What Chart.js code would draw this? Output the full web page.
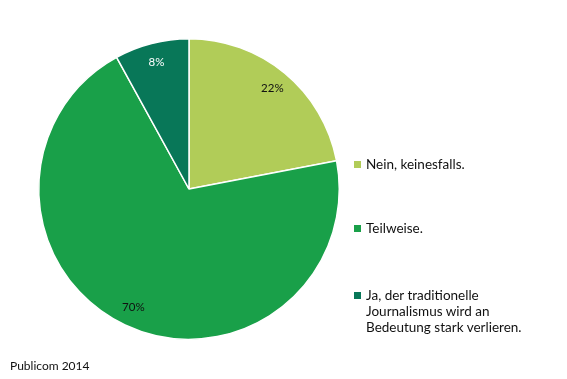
<!DOCTYPE html>
<html><head><meta charset="utf-8">
<script src="https://cdn.jsdelivr.net/npm/chart.js@4"></script>
<style>
html,body{margin:0;padding:0;background:#fff;}
#wrap{position:relative;width:567px;height:379px;font-family:Lato,"Open Sans",sans-serif;color:#111;}
canvas{position:absolute;left:0;top:0;}
.leg{position:absolute;left:354px;font-size:13.5px;line-height:16px;}
.leg .sq{position:absolute;left:0;top:5px;width:7px;height:7px;}
.leg .tx{position:absolute;left:12px;top:0;white-space:nowrap;}
#src{position:absolute;left:10px;top:358px;font-size:12px;}
</style></head><body>
<div id="wrap"><canvas id="c" width="567" height="379"></canvas><div id="src">Publicom 2014</div></div>
<script>
const categories = ["Nein, keinesfalls.", "Teilweise.", "Ja, der traditionelle\nJournalismus wird an\nBedeutung stark verlieren."];
const values = [22, 70, 8];
const colors = ["#b1cc58", "#19a049", "#087758"];
const labelColors = ["#111", "#111", "#fff"];
const legendTops = [156, 220, 287];

const wrap = document.getElementById('wrap');
categories.forEach((c, i) => {
  const d = document.createElement('div');
  d.className = 'leg';
  d.style.top = legendTops[i] + 'px';
  d.innerHTML = '<div class="sq" style="background:' + colors[i] + '"></div><div class="tx">' + c.split('\n').join('<br>') + '</div>';
  wrap.appendChild(d);
});

const labelPlugin = {
  id: 'pctLabels',
  afterDatasetsDraw(chart) {
    const ctx = chart.ctx;
    const meta = chart.getDatasetMeta(0);
    ctx.save();
    ctx.font = '11.5px Lato, "Open Sans", sans-serif';
    ctx.textAlign = 'center';
    ctx.textBaseline = 'middle';
    meta.data.forEach((arc, i) => {
      const mid = (arc.startAngle + arc.endAngle) / 2;
      const r = arc.outerRadius * 0.87;
      ctx.fillStyle = labelColors[i];
      ctx.fillText(values[i] + '%', arc.x + Math.cos(mid) * r, arc.y + Math.sin(mid) * r);
    });
    ctx.restore();
  }
};

new Chart(document.getElementById('c'), {
  type: 'pie',
  data: { labels: categories, datasets: [{ data: values, backgroundColor: colors, borderColor: '#fff', borderWidth: 1.5 }] },
  options: {
    responsive: false,
    animation: false,
    layout: { padding: { left: 38, top: 37, right: 227, bottom: 38 } },
    plugins: { legend: { display: false }, tooltip: { enabled: false } }
  },
  plugins: [labelPlugin]
});
</script>
</body></html>
